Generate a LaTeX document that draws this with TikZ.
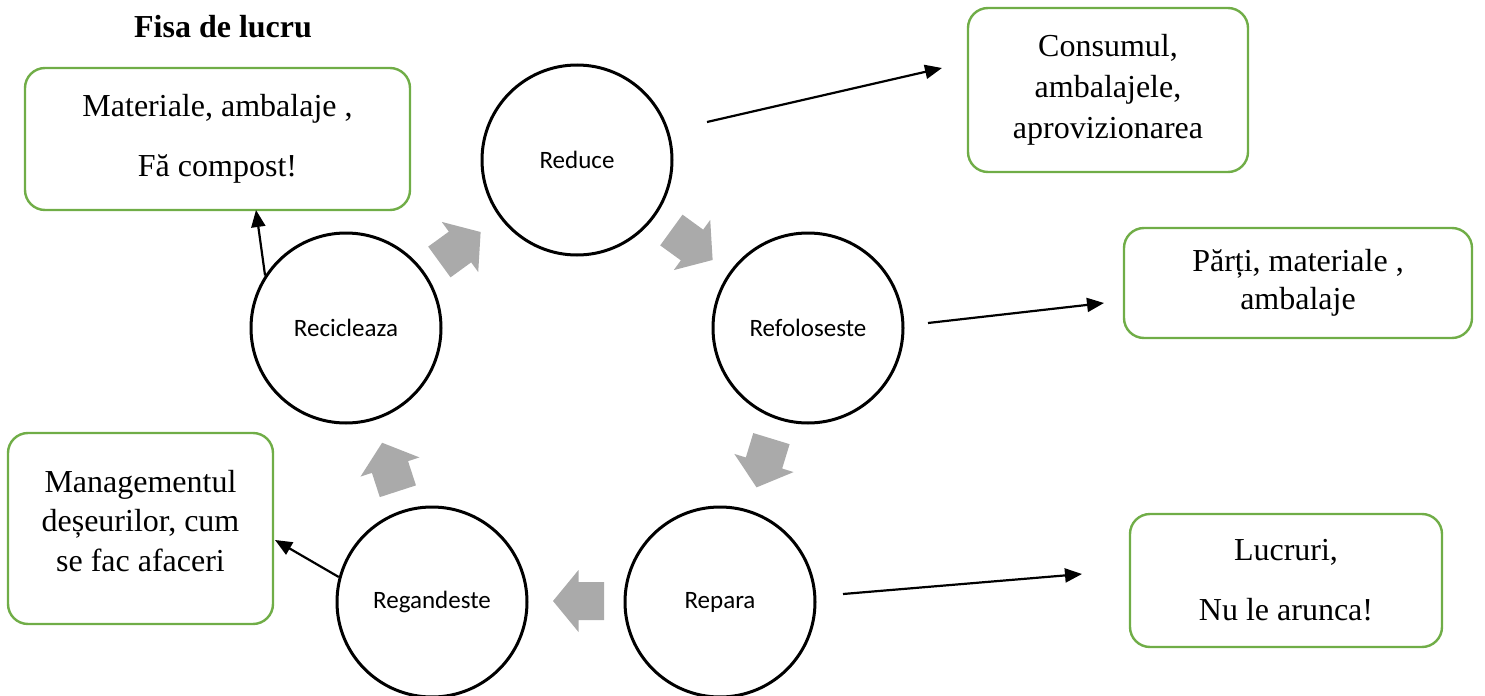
\documentclass[tikz,border=0pt]{standalone}
\usepackage{fontspec}
\setmainfont{Liberation Serif}
\newfontfamily\calfont{Carlito}
\usetikzlibrary{arrows.meta}
\definecolor{boxgreen}{RGB}{112,173,71}
\definecolor{arrowgray}{RGB}{170,170,170}
\newcommand\grayarrow[4]{\fill[arrowgray,shift={(#2,#3)},rotate=#4] (-25.5,-19) coordinate (#1) -- (0,-19) -- (0,-31) -- (25.5,0) -- (0,31) -- (0,19) -- (-25.5,19) -- cycle;}
\begin{document}
\begin{tikzpicture}[x=0.5pt,y=-0.5pt,
  circ/.style={circle,draw,line width=1.5pt,minimum size=95pt,inner sep=0pt,font=\calfont\fontsize{12.5}{15}\selectfont},
  box/.style={draw=boxgreen,line width=1.2pt,rounded corners=10pt,align=center,inner sep=0pt},
  conn/.style={line width=1.1pt,-{Triangle[length=8.5pt,width=7pt]}}]
\useasboundingbox (0,0) rectangle (1485,696);

\node[font=\bfseries\fontsize{16}{19}\selectfont] (title) at (223,27) {Fisa de lucru};

% circles
\node[circ] (reduce) at (577,160) {Reduce};
\node[circ] (refol) at (808,328) {Refoloseste};
\node[circ] (repara) at (720,602) {Repara};
\node[circ] (regand) at (432,602) {Regandeste};
\node[circ] (recic) at (346,328) {Recicleaza};

% boxes
\node[box,minimum width=192.5pt,minimum height=71pt,font=\fontsize{16}{30}\selectfont] (b1) at (217.5,139) {Materiale, ambalaje ,\\Fă compost!};
\node[box,minimum width=140pt,minimum height=82pt,font=\fontsize{16}{20.5}\selectfont] (b2) at (1108,90) {Consumul,\\ambalajele,\\aprovizionarea};
\node[box,minimum width=174pt,minimum height=55pt,font=\fontsize{16}{19}\selectfont] (b3) at (1298,283) {Părți, materiale ,\\ambalaje};
\node[box,minimum width=132.5pt,minimum height=95.5pt] (b4) at (140.5,528.5) {};
\node[align=center,inner sep=0pt,font=\fontsize{16}{19.8}\selectfont] (b4t) at (140.5,521) {Managementul\\deșeurilor, cum\\se fac afaceri};
\node[box,minimum width=156pt,minimum height=66.5pt,font=\fontsize{16}{30}\selectfont] (b5) at (1286,580.5) {Lucruri,\\Nu le arunca!};

% connector end points
\coordinate (c1s) at (707,122); \coordinate (c1e) at (942,68);
\coordinate (c2s) at (928,323); \coordinate (c2e) at (1104,303);
\coordinate (c3s) at (843,594); \coordinate (c3e) at (1082,574);
\coordinate (c4e) at (275,540);
\coordinate (c5e) at (256,210);

\draw[conn] (c1s) -- (c1e);
\draw[conn] (c2s) -- (c2e);
\draw[conn] (c3s) -- (c3e);
\draw[conn] (regand.165) -- (c4e);
\draw[conn] (recic.147) -- (c5e);

% gray block arrows
\grayarrow{g1}{460}{247}{36}
\grayarrow{g2}{692}{245}{-36}
\grayarrow{g3}{764}{463}{-107}
\grayarrow{g4}{578.5}{601}{180}
\grayarrow{g5}{390}{467}{108}
\end{tikzpicture}
\end{document}
